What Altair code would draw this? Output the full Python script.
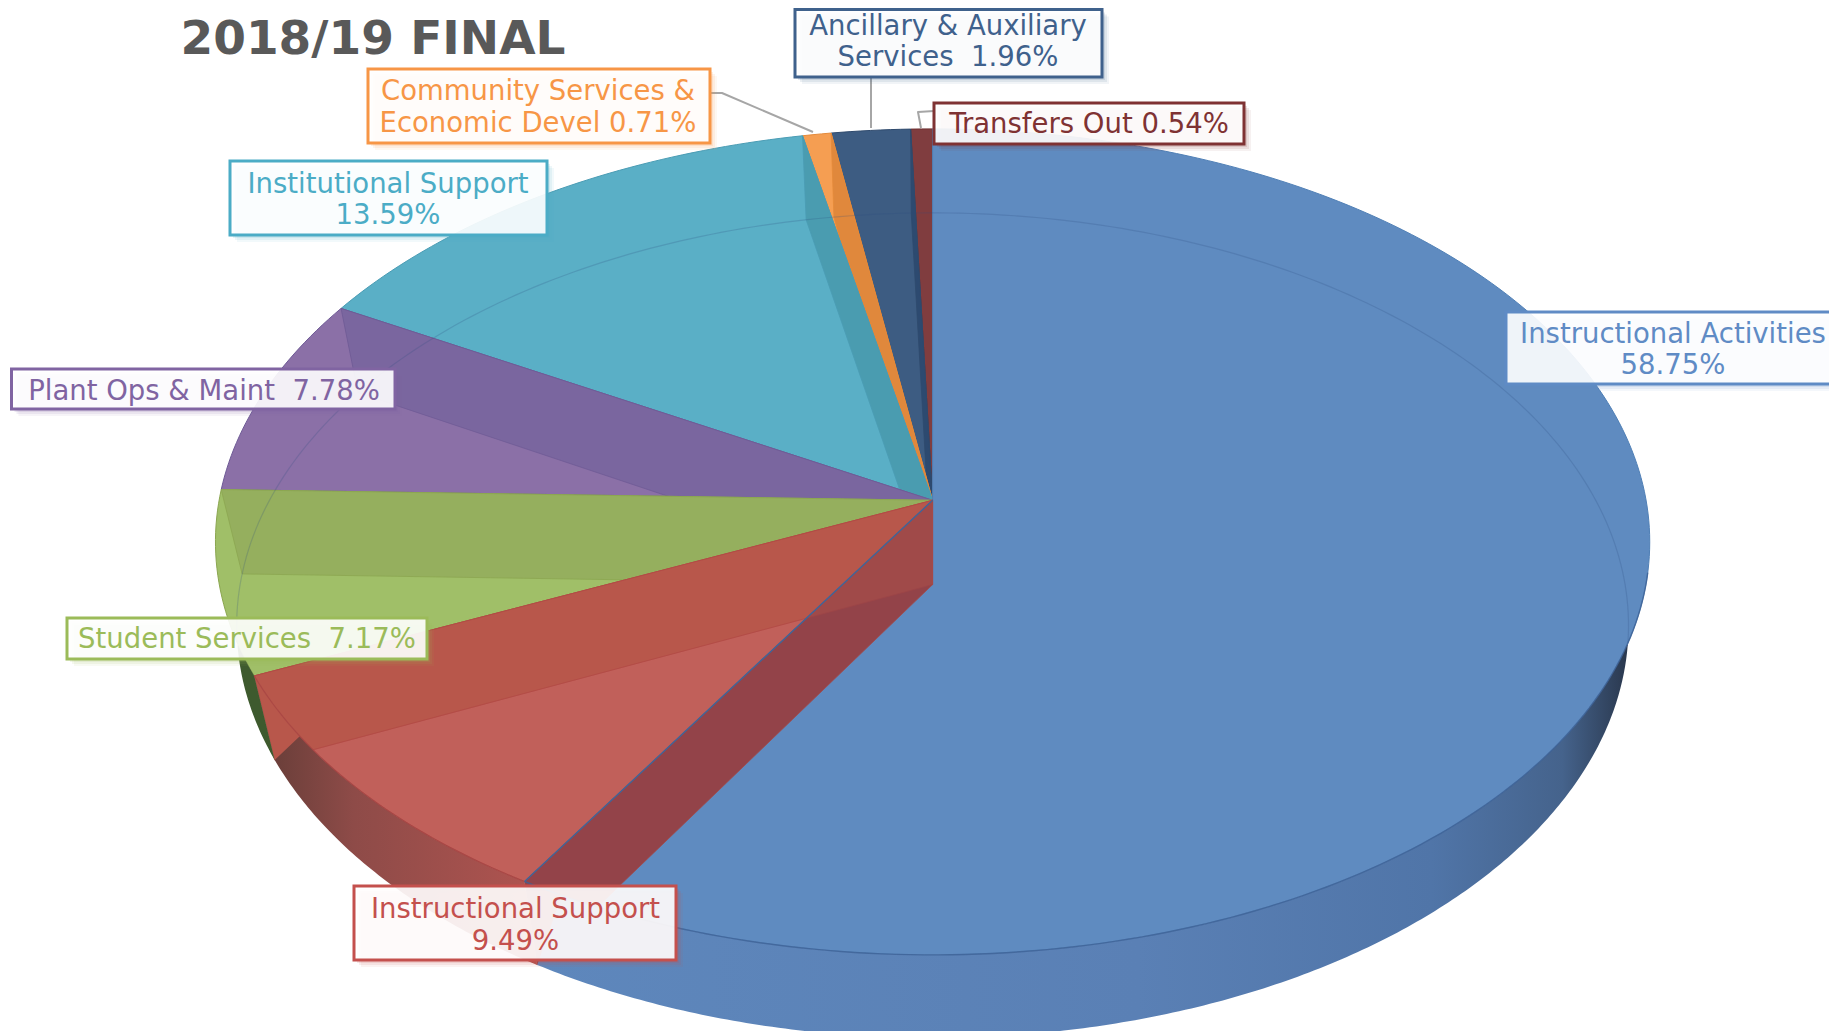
import math
import altair as alt
import pandas as pd

TITLE = "2018/19 FINAL"
CATEGORIES = ["Instructional Activities", "Instructional Support", "Student Services",
              "Plant Ops & Maint", "Institutional Support", "Community Services & Economic Devel",
              "Ancillary & Auxiliary Services", "Transfers Out"]
SHARES = [58.75, 9.49, 7.17, 7.78, 13.59, 0.71, 1.96, 0.54]
FACE = ["#5F8BC0", "#C1605A", "#A0BF68", "#8B70A7", "#5AAFC6", "#F59E52", "#3D5C82", "#803D3F"]
WALL = ["#5F8BC0", "#B8574B", "#95AF5E", "#7A669F", "#4A9CB0", "#E0883C", "#2D4A70", "#803D3F"]
EDGE = ["#5080B6", "#B24A45", "#8BA650", "#6E5A96", "#4A9CB4", "#E58A3A", "#2F4A6D", "#6E2F30"]

NB = "\u00a0"
LABEL_LINES = [["Instructional Activities", "58.75%"], ["Instructional Support", "9.49%"],
               ["Student Services" + NB + " 7.17%"], ["Plant Ops & Maint" + NB + " 7.78%"],
               ["Institutional Support", "13.59%"], ["Community Services &", "Economic Devel 0.71%"],
               ["Ancillary & Auxiliary", "Services" + NB + " 1.96%"], ["Transfers Out 0.54%"]]
LABEL_COLORS = ["#5F8BC5", "#C4504D", "#9BBB59", "#8064A2", "#4BACC6", "#F79646", "#3F618C", "#7F3233"]
LABEL_BOX = [(1506, 1860, 312, 384), (354, 676, 886, 960), (67, 427, 618, 659), (11.5, 395, 369, 409),
             (230, 547, 161, 235), (368, 710, 69, 143), (795, 1102, 4, 77), (934, 1244, 103, 144)]
LABEL_POS = [(1673, 334.5, 31), (515.5, 909.5, 32), (247, 640, 0), (204, 391.5, 0),
             (388, 184.5, 31), (538, 91.5, 32), (948, 26.5, 31), (1089, 124.5, 0)]

# Projection of the tilted disc
CX, AY, A, B, C = 932.6, 500.3, 408.8, 713.5, 0.1007
AY2, A2, B2, C2 = 584.6, 408.5, 692.5, 0.099
XS = alt.Scale(domain=[8, 1829], nice=False, zero=False)
YS = alt.Scale(domain=[1031, 8], nice=False, zero=False)


def top(t):
    r = math.radians(t)
    d = 1 + C * math.cos(r)
    return CX + B * math.sin(r) / d, AY - A * math.cos(r) / d


def low(t):
    r = math.radians(t)
    d = 1 + C2 * math.cos(r)
    return CX + B2 * math.sin(r) / d, AY2 - A2 * math.cos(r) / d


_ru = A / (1 + C)
_rd = A / (1 - C)
TOP_CY = AY + (_rd - _ru) / 2
TOP_RY = (_rd + _ru) / 2
TOP_RX = B / math.sqrt(1 - C * C)


def outside(p):
    return ((p[0] - CX) / TOP_RX) ** 2 + ((p[1] - TOP_CY) / TOP_RY) ** 2 > 1


def sweep(a, b, step=1.0):
    n = max(2, int(abs(b - a) / step) + 1)
    return [a + (b - a) * i / n for i in range(n + 1)]


def poly(points, fill=None, stroke=None, width=1.0, opacity=1.0, closed=True):
    pts = list(points) + ([points[0]] if closed else [])
    df = pd.DataFrame({"x": [p[0] for p in pts], "y": [p[1] for p in pts], "i": range(len(pts))})
    kw = {"clip": True, "strokeWidth": width, "opacity": opacity, "strokeJoin": "round"}
    kw["stroke"] = stroke if stroke else "transparent"
    if fill is not None:
        kw["fill"] = fill
    return alt.Chart(df).mark_line(**kw).encode(
        x=alt.X("x:Q", scale=XS, axis=None),
        y=alt.Y("y:Q", scale=YS, axis=None),
        order="i:Q",
    )


total = sum(SHARES)
edges = [0.0]
for s in SHARES:
    edges.append(edges[-1] + s / total * 360)


def wedge(i):
    return poly([top(t) for t in sweep(edges[i], edges[i + 1])] + [(CX, AY)],
                fill=FACE[i], stroke=EDGE[i], width=1)


def wall(t, fill, stroke, opacity=1.0):
    return poly([(CX, AY), (CX, AY2), low(t), top(t)], fill=fill, stroke=stroke, width=0.8, opacity=opacity)


def rim(a, b, fill, stroke=None):
    lows = [low(t) for t in sweep(a, b, 0.5)]
    lows = [p for p in lows if outside(p)]
    def nearest(p):
        return min(sweep(a, b, 0.25), key=lambda t: (top(t)[0] - p[0]) ** 2 + (top(t)[1] - p[1]) ** 2)
    ta, tb = nearest(lows[0]), nearest(lows[-1])
    return poly([top(t) for t in sweep(ta, tb, 0.5)] + lows[::-1], fill=fill, stroke=stroke, width=1)


layers = []
# back to front: the small slices, then round the left side, blue, then red on top
for i in [7, 6, 5, 4, 3, 2]:
    layers.append(wedge(i))
    if i != 7:
        layers.append(wall(edges[i + 1], WALL[i], EDGE[i]))
layers.append(wedge(0))
layers.append(wedge(1))
layers.append(wall(edges[2], WALL[1], EDGE[1]))
layers.append(wall(edges[1], "#934349", "#A24A4A"))
layers.append(wall(edges[2], WALL[1], EDGE[1], opacity=0.35))

blue_rim = alt.Gradient(gradient="linear", x1=0, x2=1, y1=0, y2=0, stops=[
    alt.GradientStop(offset=0, color="#5E87BC"), alt.GradientStop(offset=0.55, color="#5A80B5"),
    alt.GradientStop(offset=0.82, color="#5075A8"), alt.GradientStop(offset=0.94, color="#45638C"),
    alt.GradientStop(offset=1, color="#2A384E")])
red_rim = alt.Gradient(gradient="linear", x1=0, x2=1, y1=0, y2=0, stops=[
    alt.GradientStop(offset=0, color="#6B3F3A"), alt.GradientStop(offset=0.3, color="#8E4B48"),
    alt.GradientStop(offset=1, color="#B05450")])
layers.append(rim(edges[2], edges[3], "#3E5A2E"))
layers.append(rim(edges[1], edges[2], red_rim))
layers.append(rim(edges[0] + 60, edges[1], blue_rim))

# faint far ellipse seen through the faces, and the near rim line
far = [low(t) for t in sweep(-100, 100, 1)]
far = [p for p in far if not outside(p)]
layers.append(poly(far, stroke="#2F4F7F", width=1.2, opacity=0.22, closed=False))
layers.append(poly([top(t) for t in sweep(100, edges[1], 1)], stroke="#3D6296", width=1.4, opacity=0.8, closed=False))
layers.append(poly([top(t) for t in sweep(edges[1], edges[2], 1)], stroke="#A84543", width=1.2, opacity=0.8, closed=False))
layers.append(poly([(CX, AY), top(edges[1])], stroke="#3F6599", width=1.4, closed=False))

# leader lines
GRAY = "#A6A6A6"
layers.append(poly([(710, 93), (722, 93), (813, 132)], stroke=GRAY, width=2, closed=False))
layers.append(poly([(871, 77), (871, 128)], stroke=GRAY, width=2, closed=False))
layers.append(poly([(934, 111), (918, 112), (921, 128)], stroke=GRAY, width=2, closed=False))

# label boxes and text
box_rows = []
text_rows = []
for name, box, pos, lines, col in zip(CATEGORIES, LABEL_BOX, LABEL_POS, LABEL_LINES, LABEL_COLORS):
    box_rows.append({"name": name, "x": box[0], "x2": box[1], "y": max(box[2], 9.5), "y2": box[3], "color": col})
    for k, line in enumerate(lines):
        text_rows.append({"x": pos[0], "y": pos[1] + k * pos[2], "t": line, "color": col})
boxes = pd.DataFrame(box_rows)
texts = pd.DataFrame(text_rows)

for off, op in [(7, 0.07), (5, 0.10), (3, 0.14)]:
    shadow = boxes.assign(x=boxes.x + off, x2=boxes.x2 + off, y=boxes.y + off, y2=boxes.y2 + off)
    layers.append(alt.Chart(shadow).mark_rect(opacity=op, clip=True).encode(
        x=alt.X("x:Q", scale=XS, axis=None), x2="x2:Q",
        y=alt.Y("y:Q", scale=YS, axis=None), y2="y2:Q",
        color=alt.Color("color:N", scale=None, legend=None)))
layers.append(alt.Chart(boxes).mark_rect(fill="white", fillOpacity=0.9, strokeWidth=3, clip=True).encode(
    x=alt.X("x:Q", scale=XS, axis=None), x2="x2:Q",
    y=alt.Y("y:Q", scale=YS, axis=None), y2="y2:Q",
    stroke=alt.Color("color:N", scale=None, legend=None)))
layers.append(alt.Chart(texts).mark_text(font="DejaVu Sans", fontSize=27.5, baseline="middle", align="center").encode(
    x=alt.X("x:Q", scale=XS, axis=None),
    y=alt.Y("y:Q", scale=YS, axis=None),
    text="t:N",
    color=alt.Color("color:N", scale=None, legend=None)))
title_df = pd.DataFrame({"x": [373], "y": [40], "t": [TITLE]})
layers.append(alt.Chart(title_df).mark_text(font="DejaVu Sans", fontWeight="bold", fontSize=47, color="#595959",
                                            baseline="middle", align="center").encode(
    x=alt.X("x:Q", scale=XS, axis=None), y=alt.Y("y:Q", scale=YS, axis=None), text="t:N"))

chart = alt.layer(*layers).properties(width=1821, height=1023, padding=0, autosize="none",
                                      background="white").configure_view(strokeWidth=0)
chart.save("out.html", embed_options={"renderer": "svg", "actions": False})
